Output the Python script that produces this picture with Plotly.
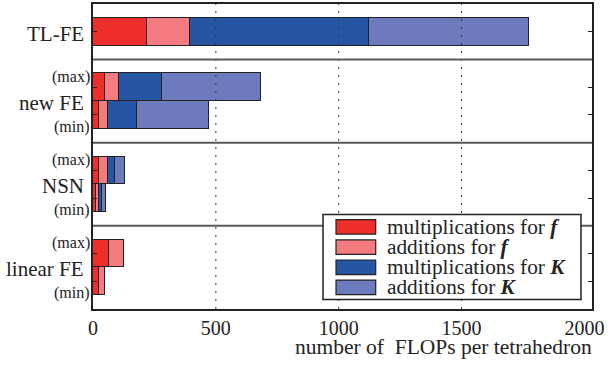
import plotly.graph_objects as go

# Operation counts per tetrahedron (stacked per row)
row_pos = [1, 3, 4, 6, 7, 9, 10]          # bar centres on the y axis
mult_f = [218, 48, 25, 24, 13, 66, 25]
add_f = [176, 58, 34, 35, 12, 62, 23]
mult_K = [730, 175, 121, 29, 10, None, None]
add_K = [651, 402, 293, 44, 17, None, None]

series_names = [
    "multiplications for <b><i>f</i></b>",
    "additions for <b><i>f</i></b>",
    "multiplications for <b><i>K</i></b>",
    "additions for <b><i>K</i></b>",
]
series_colors = ["#ee2e2b", "#f47c80", "#2655a3", "#6d7bbc"]
series_values = [mult_f, add_f, mult_K, add_K]

# Method groups: (name, centre, has min/max rows)
groups = [("TL-FE", 1, False), ("new FE", 3.5, True), ("NSN", 6.5, True), ("linear FE", 9.5, True)]
group_breaks = [2, 5, 8]
x_ticks = [0, 500, 1000, 1500, 2000]

FONT = "Liberation Serif"
INK = "#222222"

W, H = 611, 366
L, R, T, B = 93, 19, 2, 57
PW, PH = W - L - R, H - T - B


def px(x):
    return (x - L) / PW


def py(y):
    return 1 - (y - T) / PH


fig = go.Figure()
for name, color, vals in zip(series_names, series_colors, series_values):
    fig.add_trace(go.Bar(
        x=vals, y=row_pos, orientation="h", width=1, name=name,
        marker=dict(color=color, line=dict(color=INK, width=1.2)),
        showlegend=False,
    ))

shapes = []
# dotted vertical grid drawn over the bars
for xv in x_ticks[1:-1]:
    shapes.append(dict(type="line", xref="x", yref="paper", x0=xv, x1=xv, y0=0, y1=1,
                       layer="above", line=dict(color="#333333", width=1, dash="2px,6px")))
# horizontal separators between methods
for yb in group_breaks:
    shapes.append(dict(type="line", xref="paper", yref="y", x0=0, x1=1, y0=yb, y1=yb,
                       layer="above", line=dict(color="#5a5a5a", width=2)))

# legend box
shapes.append(dict(type="rect", xref="paper", yref="paper", x0=px(323), x1=px(581),
                   y0=py(299.5), y1=py(214), layer="above",
                   fillcolor="white", line=dict(color=INK, width=1.5)))
row_centres = [226.3, 246.8, 267.0, 287.2]
annotations = []
for name, color, yc in zip(series_names, series_colors, row_centres):
    shapes.append(dict(type="rect", xref="paper", yref="paper", x0=px(336), x1=px(375.7),
                       y0=py(yc + 7.3), y1=py(yc - 7.3), layer="above",
                       fillcolor=color, line=dict(color=INK, width=1.2)))
    annotations.append(dict(xref="paper", yref="paper", x=px(385), y=py(yc), text=name,
                            xanchor="left", yanchor="middle", showarrow=False,
                            font=dict(family=FONT, size=21.3, color=INK)))

# method labels and min/max markers
for name, yc, minmax in groups:
    annotations.append(dict(xref="paper", yref="y", x=0, y=yc + 0.07, xshift=-7, text=name,
                            xanchor="right", yanchor="middle", showarrow=False,
                            font=dict(family=FONT, size=21, color=INK)))
    if minmax:
        for lab, dy in (("(max)", -0.88), ("(min)", 0.92)):
            annotations.append(dict(xref="paper", yref="y", x=0, y=yc + dy, xshift=-1, text=lab,
                                    xanchor="right", yanchor="middle", showarrow=False,
                                    font=dict(family=FONT, size=16, color=INK)))

# axis title, right-aligned under the x axis
annotations.append(dict(xref="paper", yref="paper", x=px(594), y=0, yshift=-37.5,
                        text="number of  FLOPs per tetrahedron", xanchor="right",
                        yanchor="middle", showarrow=False,
                        font=dict(family=FONT, size=21.5, color=INK)))

fig.update_layout(
    width=W, height=H, margin=dict(l=L, r=R, t=T, b=B),
    paper_bgcolor="white", plot_bgcolor="white",
    barmode="stack", bargap=0,
    shapes=shapes, annotations=annotations,
    font=dict(family=FONT, color=INK),
    xaxis=dict(range=[0, 2031], tickvals=x_ticks, ticks="", showgrid=False,
               zeroline=False, showline=True, linecolor=INK, linewidth=2, mirror=True,
               tickfont=dict(family=FONT, size=20, color=INK)),
    yaxis=dict(range=[11, 0], tickvals=row_pos, ticktext=[""] * len(row_pos),
               ticks="inside", ticklen=4, tickcolor=INK, tickwidth=1,
               showgrid=False, zeroline=False, showline=True, linecolor=INK,
               linewidth=2, mirror="ticks"),
)

fig.write_html("out.html")
